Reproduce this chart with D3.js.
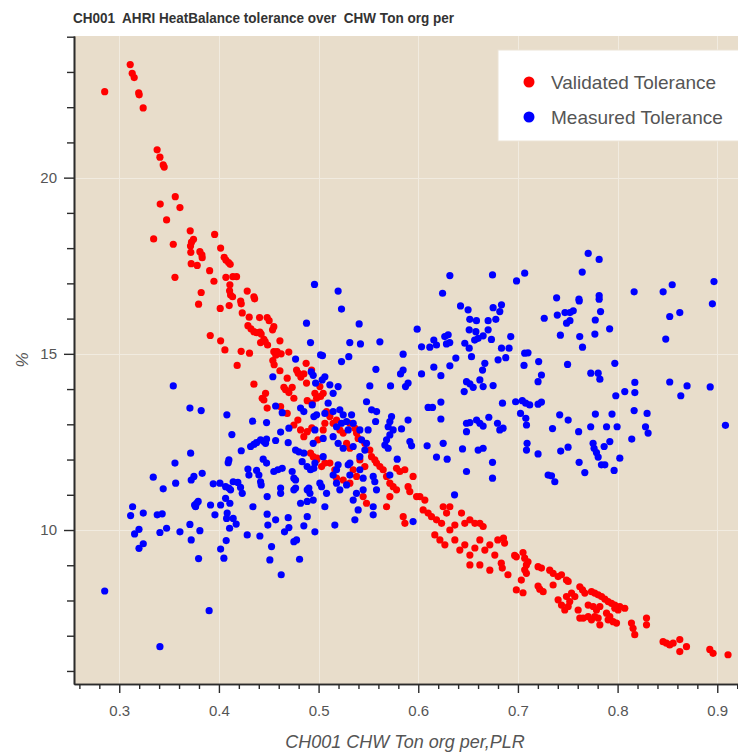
<!DOCTYPE html>
<html>
<head>
<meta charset="utf-8">
<script src="https://cdn.jsdelivr.net/npm/d3@7"></script>
<style>
  html, body { margin: 0; padding: 0; background: #ffffff; }
  svg { display: block; font-family: "Liberation Sans", Arial, Helvetica, sans-serif; }
</style>
</head>
<body>
<svg id="chart" width="738" height="753"></svg>
<script>
// ---- chart text ----
const chartTitle = "CH001  AHRI HeatBalance tolerance over  CHW Ton org per";
const xAxisLabel = "CH001 CHW Ton org per,PLR";
const yAxisLabel = "%";
const seriesNames = ["Validated Tolerance", "Measured Tolerance"];
const seriesColors = ["#ff0000", "#0000ff"];

// ---- axes ----
const xDomain = [0.2546, 0.9208];
const yDomain = [5.63, 24.02];
const xTickValues = [0.3, 0.4, 0.5, 0.6, 0.7, 0.8, 0.9];
const xTickLabels = ["0.3", "0.4", "0.5", "0.6", "0.7", "0.8", "0.9"];
const xMinorStep = 0.02;
const yTickValues = [10, 15, 20];
const yTickLabels = ["10", "15", "20"];
const yMinorStep = 1;

// ---- data: [PLR, tolerance %] ----
const validatedTolerance = [
  [0.2854,22.44],[0.311,23.21],[0.313,22.96],[0.315,22.84],[0.3195,22.41],[0.320,22.35],[0.324,21.98],
  [0.338,20.79],[0.3408,20.58],[0.3441,20.36],[0.3451,20.30],[0.3562,19.46],[0.3411,19.25],[0.3609,19.15],
  [0.3475,18.80],[0.3345,18.26],[0.3542,18.11],[0.3712,18.49],[0.3957,18.39],[0.3745,18.25],[0.3725,18.17],
  [0.3715,18.06],[0.3718,17.88],[0.3809,17.90],[0.3829,17.81],[0.3832,17.73],[0.4017,18.0],[0.4053,17.74],
  [0.407,17.66],[0.4097,17.59],[0.4113,17.54],[0.3722,17.56],[0.3782,17.51],[0.3907,17.36],[0.3559,17.17],
  [0.395,17.06],[0.407,17.17],[0.414,17.19],[0.4177,17.19],[0.411,16.96],[0.4107,16.79],[0.4117,16.67],
  [0.4137,16.62],[0.4284,16.78],[0.4351,16.62],[0.4358,16.56],[0.4218,16.50],[0.4224,16.42],[0.3822,16.74],
  [0.3796,16.41],[0.4013,16.29],[0.4103,16.37],[0.4234,16.16],[0.4304,16.04],[0.4408,16.03],[0.4484,16.03],
  [0.4504,15.94],[0.4291,15.80],[0.4321,15.71],[0.4351,15.63],[0.4378,15.60],[0.4411,15.62],[0.4424,15.56],
  [0.4551,15.77],[0.4538,15.68],[0.4451,15.41],[0.4464,15.35],[0.4488,15.25],[0.4418,15.32],[0.4612,15.37],
  [0.3913,15.52],[0.4017,15.37],[0.406,15.11],[0.4223,15.07],[0.4307,15.02],[0.4551,15.06],[0.4584,15.06],
  [0.4571,14.96],[0.4624,15.0],[0.4701,15.05],[0.4541,14.81],[0.4554,14.69],[0.4183,14.67],[0.4875,14.73],
  [0.4612,14.52],[0.4685,14.31],[0.4779,14.54],[0.4795,14.45],[0.4822,14.34],[0.4852,14.43],[0.4879,14.17],
  [0.4351,14.14],[0.4652,14.05],[0.4669,13.98],[0.4702,13.90],[0.4735,14.05],[0.4468,13.88],[0.4434,13.74],
  [0.4451,13.69],[0.4484,13.46],[0.4619,13.50],[0.4752,13.74],[0.4886,13.67],[0.4936,13.60],[0.498,13.74],
  [0.502,13.79],[0.4685,13.31],[0.493,14.54],[0.5013,14.07],[0.5046,13.88],[0.4963,13.88],[0.508,13.36],
  [0.5113,13.22],[0.5063,13.03],[0.5046,12.84],[0.5146,13.03],[0.518,13.12],[0.5213,12.84],[0.5247,12.75],
  [0.5314,13.03],[0.5364,12.89],[0.5381,12.75],[0.5397,12.60],[0.5464,12.46],[0.5514,12.27],[0.5531,12.08],
  [0.5564,11.99],[0.5581,11.90],[0.5281,12.46],[0.5314,12.32],[0.4946,12.08],[0.498,11.99],[0.503,11.80],
  [0.5063,11.90],[0.518,11.47],[0.5247,11.42],[0.5314,11.33],[0.5113,11.90],[0.5163,11.71],[0.5414,11.99],
  [0.5464,11.80],[0.5615,11.80],[0.5648,11.71],[0.5682,11.52],[0.5715,11.33],[0.5748,11.23],[0.5782,11.14],
  [0.5782,11.75],[0.5815,11.66],[0.5865,11.71],[0.5948,11.52],[0.5898,11.23],[0.5915,11.09],[0.5983,10.95],
  [0.6016,10.95],[0.6066,10.85],[0.5682,10.66],[0.5715,10.95],[0.5849,10.38],[0.5866,10.19],[0.6049,10.57],
  [0.6099,10.48],[0.6133,10.38],[0.6183,10.29],[0.6234,10.19],[0.625,10.66],[0.6317,10.66],[0.6284,10.48],
  [0.6434,10.48],[0.6467,10.19],[0.6518,10.29],[0.6568,10.19],[0.6618,10.19],[0.6651,10.10],[0.5447,10.95],
  [0.5481,10.76],[0.5347,11.71],[0.5381,11.52],[0.6166,9.86],[0.6217,9.72],[0.6267,9.58],[0.6317,10.0],
  [0.6367,9.72],[0.6417,9.43],[0.6467,9.58],[0.6518,9.29],[0.6568,9.49],[0.6618,9.72],[0.6668,9.43],
  [0.6718,9.58],[0.6768,9.29],[0.6518,9.01],[0.6618,9.01],[0.6718,8.86],[0.6367,10.14],[0.6798,9.72],
  [0.6855,9.77],[0.6866,9.63],[0.6833,9.06],[0.6843,8.92],[0.6967,9.28],[0.6984,9.24],[0.7051,9.36],
  [0.7068,9.20],[0.7101,9.10],[0.7085,9.01],[0.7068,8.87],[0.7085,8.77],[0.69,8.73],[0.7034,8.58],
  [0.6984,8.30],[0.7051,8.22],[0.7202,8.96],[0.7236,8.92],[0.7319,8.86],[0.7353,8.77],[0.7403,8.68],
  [0.7437,8.73],[0.7202,8.41],[0.7219,8.32],[0.7253,8.25],[0.7353,8.44],[0.7487,8.58],[0.7504,8.54],
  [0.7403,8.02],[0.7437,7.87],[0.747,7.73],[0.7504,7.83],[0.752,7.97],[0.7487,8.11],[0.7621,8.39],
  [0.7648,8.30],[0.7671,8.21],[0.7738,8.25],[0.7771,8.21],[0.7805,8.16],[0.7839,8.11],[0.7872,8.04],
  [0.7905,7.97],[0.7939,7.92],[0.7972,7.87],[0.8022,7.83],[0.8072,7.78],[0.7538,8.21],[0.7571,8.11],
  [0.7604,7.73],[0.7621,7.50],[0.7655,7.50],[0.7705,7.54],[0.7738,7.45],[0.7771,7.54],[0.7805,7.50],
  [0.7822,7.31],[0.7705,7.87],[0.7755,7.83],[0.7788,7.73],[0.7822,7.83],[0.7889,7.64],[0.7922,7.54],
  [0.7955,7.40],[0.7989,7.36],[0.7905,7.45],[0.7972,7.78],[0.8005,7.73],[0.8139,7.36],[0.8155,7.21],
  [0.8172,7.03],[0.829,7.50],[0.829,7.31],[0.8456,6.83],[0.849,6.79],[0.8523,6.74],[0.8557,6.79],
  [0.8624,6.89],[0.8624,6.55],[0.8691,6.69],[0.8925,6.61],[0.8958,6.50],[0.9108,6.46],
  [0.4752,12.98],[0.4819,12.84],[0.4886,12.79],[0.4852,12.65],[0.4919,12.18],[0.4986,12.04],
  [0.4792,13.12],[0.4993,12.56],[0.4932,12.90]
];

const measuredTolerance = [
  [0.3709,13.46],[0.3822,13.39],[0.408,13.27],[0.4338,13.09],[0.4478,13.05],[0.413,12.71],[0.4569,13.52],
  [0.4635,13.33],[0.4619,12.78],[0.4702,12.89],[0.4569,12.54],[0.4318,12.37],[0.4351,12.43],[0.4378,12.48],
  [0.4418,12.56],[0.4451,12.51],[0.4478,12.58],[0.4468,12.46],[0.4224,12.25],[0.3716,12.18],[0.3559,11.90],
  [0.41,11.99],[0.4093,11.91],[0.4444,12.01],[0.4478,11.90],[0.4291,11.73],[0.4301,11.56],[0.4378,11.69],
  [0.4401,11.56],[0.4418,11.37],[0.4424,11.28],[0.4551,11.66],[0.4591,11.71],[0.4635,11.75],[0.4695,12.48],
  [0.4769,12.27],[0.4802,12.22],[0.4852,12.18],[0.4735,11.66],[0.4752,11.47],[0.4769,11.42],[0.4835,11.94],
  [0.4885,11.80],[0.4919,11.71],[0.4952,11.75],[0.4902,11.19],[0.4886,11.14],[0.4769,11.19],[0.4752,11.14],
  [0.4619,11.19],[0.4619,11.04],[0.4484,10.95],[0.3341,11.50],[0.3441,11.17],[0.3566,11.33],[0.3722,11.42],
  [0.3749,11.52],[0.3832,11.61],[0.3943,11.31],[0.401,11.33],[0.4067,11.23],[0.41,11.19],[0.4117,11.14],
  [0.4143,11.37],[0.419,11.35],[0.4217,11.21],[0.4234,11.04],[0.4067,10.90],[0.411,10.76],[0.4083,10.48],
  [0.4077,10.33],[0.4143,10.33],[0.4173,10.17],[0.4017,10.71],[0.3916,10.71],[0.3756,10.71],[0.3776,10.76],
  [0.3792,10.81],[0.3766,10.66],[0.396,10.43],[0.3134,10.66],[0.3114,10.41],[0.3241,10.48],[0.3381,10.43],
  [0.3431,10.46],[0.3154,9.89],[0.3198,10.02],[0.3198,9.48],[0.3241,9.61],[0.3408,9.93],[0.3475,10.05],
  [0.3609,9.95],[0.3709,10.16],[0.3809,9.98],[0.3722,9.72],[0.3796,9.19],[0.4017,9.46],[0.405,9.20],
  [0.4073,9.70],[0.4107,10.05],[0.4284,9.86],[0.4411,9.83],[0.4341,10.66],[0.4484,10.45],[0.4491,10.14],
  [0.4569,10.29],[0.4695,10.35],[0.4658,9.95],[0.4702,10.07],[0.4528,9.53],[0.4511,9.15],[0.4625,8.73],
  [0.4752,9.67],[0.4779,9.72],[0.4809,9.17],[0.4852,10.12],[0.4886,10.38],[0.4819,10.76],[0.4886,10.81],
  [0.4946,10.85],[0.4963,9.95],[0.2854,8.27],[0.3902,7.71],[0.3408,6.69],
  [0.4959,16.97],[0.4879,15.87],[0.4919,15.32],[0.502,14.97],[0.4769,14.85],[0.4541,14.35],[0.4926,14.49],
  [0.4946,14.39],[0.497,14.17],[0.3542,14.09],[0.4819,13.46],[0.4852,13.36],[0.4936,13.55],[0.4953,13.22],
  [0.5036,14.26],
  [0.5196,16.78],[0.523,16.27],[0.5407,15.85],[0.5313,15.32],[0.542,15.28],[0.5615,15.34],[0.5039,14.95],
  [0.523,14.78],[0.5303,14.92],[0.5575,14.56],[0.5514,14.09],[0.5722,14.09],[0.5848,14.99],[0.5822,14.43],
  [0.5848,14.54],[0.5872,14.07],[0.5898,14.17],[0.5989,15.70],[0.6033,15.20],[0.6116,15.19],[0.6156,15.39],
  [0.6183,15.25],[0.6266,15.49],[0.63,15.54],[0.6283,15.28],[0.6316,15.32],[0.6244,16.72],[0.6317,17.22],
  [0.6033,14.43],[0.6156,14.62],[0.6227,14.38],[0.6317,14.66],[0.6377,14.88],[0.6424,16.36],[0.65,16.25],
  [0.6517,15.98],[0.6584,15.94],[0.6745,17.24],[0.6986,17.07],[0.7068,17.29],[0.6751,16.31],[0.6835,16.39],
  [0.6818,16.20],[0.6778,15.98],[0.6701,15.94],[0.6511,15.68],[0.6578,15.63],[0.6651,15.51],[0.6701,15.68],
  [0.6734,15.41],[0.6601,15.44],[0.6566,15.39],[0.6467,15.30],[0.6511,15.16],[0.6534,14.92],[0.6928,15.49],
  [0.6835,15.16],[0.6911,15.16],[0.6878,14.89],[0.6801,14.83],[0.6668,14.73],[0.6645,14.54],[0.6618,14.26],
  [0.6651,14.07],[0.6751,14.10],[0.6484,14.21],[0.6518,14.15],[0.6551,14.05],[0.6461,13.93],[0.7068,15.02],
  [0.7101,15.03],[0.7061,14.67],[0.7208,14.78],[0.7202,14.21],[0.6845,13.60],[0.6977,13.64],[0.7044,13.67],
  [0.7078,13.60],[0.7118,13.55],[0.7202,13.57],[0.6099,13.48],[0.6143,13.48],[0.6227,13.63],[0.6227,13.15],
  [0.6484,13.03],[0.6518,13.05],[0.6585,13.12],[0.6618,13.03],[0.6651,12.95],[0.6708,13.20],[0.6484,12.79],
  [0.6795,13.03],[0.6818,12.84],[0.6851,12.89],[0.7026,13.31],[0.7079,13.17],[0.7086,12.98],[0.7092,12.46],
  [0.7086,12.27],[0.7202,12.16],[0.6444,12.30],[0.6601,12.27],[0.6651,12.32],[0.6745,11.92],[0.6745,11.47],
  [0.6484,11.66],[0.625,12.46],[0.6089,12.39],[0.6183,12.07],[0.629,12.01],[0.6364,11.0],[0.5898,13.12],
  [0.5832,12.87],[0.5916,12.51],[0.5933,12.39],[0.5732,13.22],[0.5715,13.08],[0.5698,12.93],[0.5715,12.70],
  [0.5682,12.56],[0.5665,12.41],[0.5698,12.32],[0.5748,12.84],[0.5572,13.08],[0.5582,13.36],[0.5532,13.41],
  [0.5481,13.64],[0.5497,12.84],[0.5789,12.01],[0.5715,11.56],[0.5548,11.52],[0.5581,11.14],[0.5564,11.37],
  [0.5481,12.46],[0.5464,12.27],[0.5447,11.47],[0.5447,11.14],[0.538,11.04],[0.5347,10.85],[0.5397,10.57],
  [0.5548,10.66],[0.5548,10.43],[0.5146,11.56],[0.5196,11.85],[0.518,11.33],[0.5213,11.14],[0.5314,11.56],
  [0.5297,11.85],[0.5281,11.28],[0.508,11.04],[0.5063,10.66],[0.4913,11.04],[0.5013,11.33],[0.503,11.23],
  [0.5163,10.14],[0.5364,10.29],[0.5948,10.24],
  [0.5063,14.35],[0.5113,14.12],[0.5146,13.88],[0.5196,14.07],[0.5096,13.60],[0.5063,13.31],[0.498,13.27],
  [0.5146,13.36],[0.5213,13.41],[0.5247,13.27],[0.523,13.03],[0.5281,13.08],[0.5331,13.27],[0.5347,13.03],
  [0.5297,12.84],[0.518,12.93],[0.5146,12.65],[0.4963,12.84],[0.4946,12.46],[0.5046,12.60],[0.5196,12.46],
  [0.5247,12.32],[0.5414,12.84],[0.5431,12.56],[0.5347,12.37],[0.5414,12.08],[0.5314,11.90],[0.5046,12.08],
  [0.4963,11.90],[0.518,11.71],[0.5414,11.71],
  [0.7705,17.85],[0.7815,17.68],[0.7645,17.32],[0.7388,16.59],[0.7612,16.55],[0.7615,16.50],[0.7815,16.65],
  [0.7815,16.55],[0.7829,16.20],[0.7264,16.01],[0.7395,16.10],[0.7472,16.17],[0.7522,16.17],[0.7555,16.22],
  [0.7488,15.87],[0.7522,15.94],[0.7776,15.96],[0.792,15.71],[0.7772,15.56],[0.7426,15.53],[0.762,15.49],
  [0.7648,15.19],[0.8166,16.76],[0.8457,16.76],[0.8548,16.96],[0.8967,17.05],[0.8951,16.42],[0.8523,16.06],
  [0.8624,16.17],[0.8483,15.42],[0.7236,14.40],[0.7498,14.70],[0.7731,14.45],[0.7805,14.45],[0.7822,14.28],
  [0.7972,14.73],[0.8173,14.19],[0.8173,13.90],[0.8072,13.93],[0.7982,13.81],[0.8523,14.20],[0.8697,14.09],
  [0.8634,13.81],[0.8929,14.06],[0.7236,13.63],[0.7419,13.27],[0.7504,13.12],[0.7347,12.88],[0.7609,12.79],
  [0.7777,13.29],[0.773,12.93],[0.7944,13.29],[0.7889,12.93],[0.7995,12.93],[0.8166,13.39],[0.8296,13.31],
  [0.828,12.93],[0.8306,12.75],[0.8142,12.58],[0.7429,12.24],[0.7503,12.35],[0.7754,12.46],[0.7764,12.32],
  [0.7788,12.20],[0.7805,12.07],[0.7838,11.85],[0.7872,11.85],[0.7865,12.37],[0.7922,12.51],[0.8022,12.04],
  [0.7614,11.92],[0.7671,11.63],[0.7965,11.69],[0.7303,11.56],[0.7337,11.54],[0.737,11.37],[0.9082,12.97]
];

// ---- layout ----
const W = 738, H = 753;
const plot = { left: 74, top: 36, right: 738, bottom: 684 };

const svg = d3.select("#chart");
svg.append("rect").attr("width", W).attr("height", H).attr("fill", "#ffffff");

const x = d3.scaleLinear().domain(xDomain).range([plot.left, plot.right]);
const y = d3.scaleLinear().domain(yDomain).range([plot.bottom, plot.top]);

// plot background
svg.append("rect")
  .attr("x", plot.left).attr("y", plot.top)
  .attr("width", plot.right - plot.left).attr("height", plot.bottom - plot.top)
  .attr("fill", "#e8ddcb");

// faint grid at the major ticks
const grid = svg.append("g").attr("stroke", "#f1ebe0").attr("stroke-width", 1);
grid.selectAll("line.gx").data(xTickValues).join("line")
  .attr("x1", d => Math.round(x(d)) + 0.5).attr("x2", d => Math.round(x(d)) + 0.5)
  .attr("y1", plot.top).attr("y2", plot.bottom);
grid.selectAll("line.gy").data(yTickValues).join("line")
  .attr("y1", d => Math.round(y(d)) + 0.5).attr("y2", d => Math.round(y(d)) + 0.5)
  .attr("x1", plot.left).attr("x2", plot.right);

// scatter glyphs, clipped to the plot frame
svg.append("clipPath").attr("id", "plotClip").append("rect")
  .attr("x", plot.left).attr("y", plot.top)
  .attr("width", plot.right - plot.left).attr("height", plot.bottom - plot.top);
const marks = svg.append("g").attr("clip-path", "url(#plotClip)");
[validatedTolerance, measuredTolerance].forEach((series, i) => {
  marks.append("g").selectAll("circle").data(series).join("circle")
    .attr("cx", d => x(d[0])).attr("cy", d => y(d[1]))
    .attr("r", 3.6)
    .attr("fill", seriesColors[i]);
});

// minor tick positions
const xMinor = d3.range(Math.ceil(xDomain[0] / xMinorStep) * xMinorStep, xDomain[1] + 1e-9, xMinorStep)
  .map(v => +v.toFixed(4)).filter(v => !xTickValues.some(t => Math.abs(t - v) < 1e-6));
const yMinor = d3.range(Math.ceil(yDomain[0]), yDomain[1] + 1e-9, yMinorStep)
  .filter(v => !yTickValues.includes(v));

const axisColor = "#2b2b2b";
const labelColor = "#555555";

function styleAxis(g) {
  g.selectAll("path.domain").attr("stroke", axisColor).attr("stroke-width", 1.6);
  g.selectAll(".tick line").attr("stroke", axisColor).attr("stroke-width", 1.4);
  g.selectAll(".tick text").attr("fill", labelColor)
    .style("font-family", '"Liberation Sans", Arial, sans-serif').style("font-size", "15px");
}

// x axis
const gx = svg.append("g").attr("transform", `translate(0,${plot.bottom})`);
gx.append("g").call(d3.axisBottom(x).tickValues(xMinor).tickFormat("").tickSize(5).tickSizeOuter(0))
  .call(styleAxis);
gx.append("g").call(d3.axisBottom(x).tickValues(xTickValues).tickFormat((d, i) => xTickLabels[i])
  .tickSize(9).tickSizeOuter(0).tickPadding(12)).call(styleAxis);

// y axis
const gy = svg.append("g").attr("transform", `translate(${plot.left},0)`);
gy.append("g").call(d3.axisLeft(y).tickValues(yMinor).tickFormat("").tickSize(7).tickSizeOuter(0))
  .call(styleAxis);
gy.append("g").call(d3.axisLeft(y).tickValues(yTickValues).tickFormat((d, i) => yTickLabels[i])
  .tickSize(10).tickSizeOuter(0).tickPadding(7)).call(styleAxis);

// title
svg.append("text")
  .attr("x", 73).attr("y", 23)
  .style("white-space", "pre")
  .attr("fill", "#333333")
  .style("font-size", "15px").style("font-weight", "bold")
  .attr("textLength", 381).attr("lengthAdjust", "spacingAndGlyphs")
  .text(chartTitle);

// axis labels
svg.append("text")
  .attr("x", 405).attr("y", 748)
  .attr("text-anchor", "middle")
  .attr("fill", labelColor)
  .style("font-size", "18px").style("font-style", "italic")
  .text(xAxisLabel);

svg.append("text")
  .attr("transform", `translate(28,${(plot.top + plot.bottom) / 2}) rotate(-90)`)
  .attr("text-anchor", "middle")
  .attr("fill", labelColor)
  .style("font-size", "17px").style("font-style", "italic")
  .text(yAxisLabel);

// legend
const legend = svg.append("g");
legend.append("rect")
  .attr("x", 498).attr("y", 50).attr("width", 260).attr("height", 91)
  .attr("fill", "#ffffff").attr("stroke", "#ece4d6");
seriesNames.forEach((name, i) => {
  const cy = 82 + i * 35;
  legend.append("circle").attr("cx", 529).attr("cy", cy).attr("r", 5.5).attr("fill", seriesColors[i]);
  legend.append("text").attr("x", 551).attr("y", cy).attr("dy", "0.35em")
    .attr("fill", labelColor).style("font-size", "19px").text(name);
});
</script>
</body>
</html>
